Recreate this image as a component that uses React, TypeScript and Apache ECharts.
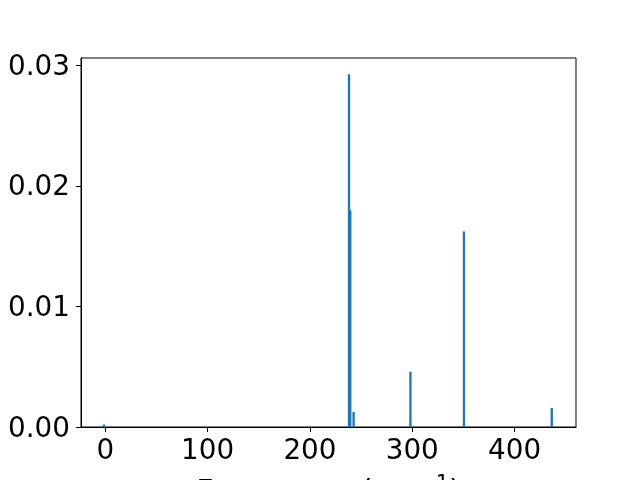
import React, { useEffect, useRef } from "react";
import * as echarts from "echarts";

const freqs = [-1.3, 238.2, 239.4, 242.7, 298.2, 350.5, 436.3];
const intensities = [0.0002, 0.02926, 0.01797, 0.00125, 0.00459, 0.01622, 0.00158];
const xTicks = [0, 100, 200, 300, 400];
const yTicks = [0, 0.01, 0.02, 0.03];
const BAR_W = 2.3;

export default function App() {
  const ref = useRef<HTMLDivElement>(null);
  useEffect(() => {
    if (!ref.current) return;
    const chart = echarts.init(ref.current, undefined, { renderer: "svg" });
    const font = "DejaVu Sans";
    const fs = 27.8;
    chart.setOption({
      animation: false,
      grid: {
        left: 81,
        right: 64,
        top: 58,
        bottom: 53,
        show: true,
        borderColor: "#000",
        borderWidth: 1,
        outerBoundsMode: "none",
        containLabel: false,
      },
      xAxis: {
        type: "value",
        min: -23.7,
        max: 460,
        splitLine: { show: false },
        axisLine: { show: true, onZero: false, lineStyle: { color: "#000", width: 1 } },
        axisTick: { show: true, length: 5, inside: false, customValues: xTicks, lineStyle: { color: "#000" } },
        axisLabel: {
          customValues: xTicks,
          color: "#000",
          fontFamily: font,
          fontSize: fs,
          margin: 8,
        },
        name: "Frequency (cm{sup|−1})",
        nameLocation: "middle",
        nameGap: 45,
        nameTextStyle: {
          color: "#000",
          fontFamily: font,
          fontSize: 30,
          rich: {
            sup: { fontSize: 21, fontFamily: font, color: "#000", verticalAlign: "top", padding: [0, 0, 15, 0] },
          },
        },
      },
      yAxis: {
        type: "value",
        min: 0,
        max: 0.0306,
        splitLine: { show: false },
        axisLine: { show: true, onZero: false, lineStyle: { color: "#000", width: 1 } },
        axisTick: { show: true, length: 5, inside: false, customValues: yTicks, lineStyle: { color: "#000" } },
        axisLabel: {
          customValues: yTicks,
          color: "#000",
          fontFamily: font,
          fontSize: fs,
          margin: 11,
          formatter: (v: number) => v.toFixed(2),
        },
      },
      series: [
        {
          type: "custom",
          data: freqs.map((f, i) => [f, intensities[i]]),
          renderItem: (params: any, api: any) => {
            const x = api.value(0);
            const y = api.value(1);
            const p0 = api.coord([x - BAR_W / 2, 0]);
            const p1 = api.coord([x + BAR_W / 2, y]);
            return {
              type: "rect",
              shape: { x: p0[0], y: p1[1], width: p1[0] - p0[0], height: p0[1] - p1[1] },
              style: { fill: "#1f77b4" },
            };
          },
        },
      ],
    });
    return () => chart.dispose();
  }, []);
  return <div ref={ref} style={{ position: "fixed", left: 0, top: 0, width: 640, height: 480 }} />;
}
